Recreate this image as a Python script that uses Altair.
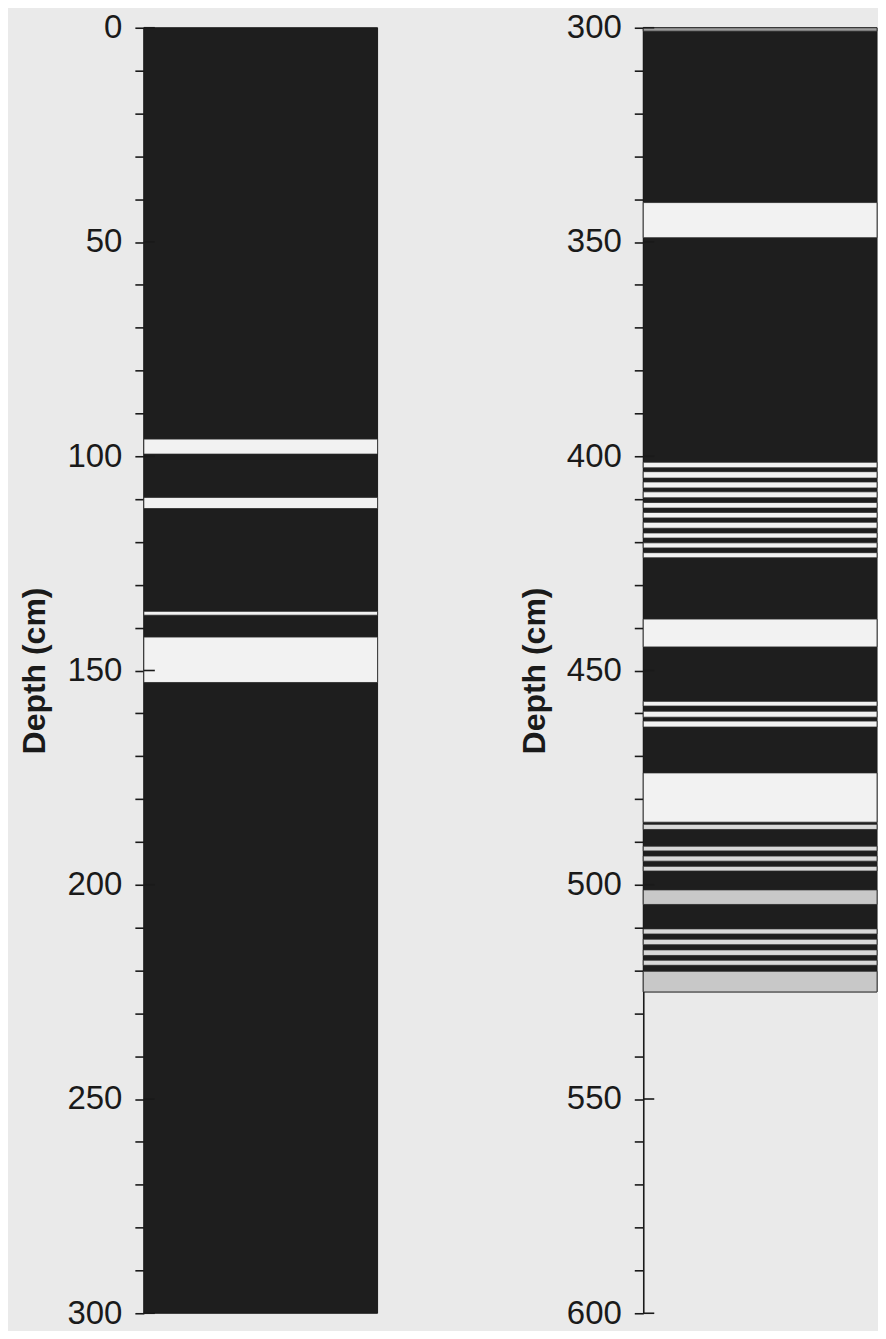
import altair as alt
import pandas as pd

# ---- data (depths in cm) ----
core1_range = [0, 300]
core1_band_top = [96.0, 109.6, 136.2, 142.2]
core1_band_base = [99.5, 112.2, 137.1, 152.8]
core1_band_kind = ["pale", "pale", "pale", "pale"]

core2_range = [300, 525]
core2_band_top = [300.0, 340.8,
                  401.4, 403.6, 406.0, 408.3, 410.8, 413.1, 415.4, 417.9, 420.2, 422.5,
                  438.0, 457.2, 459.5, 461.8, 473.9,
                  485.9, 491.0, 493.3, 495.7, 501.2,
                  510.3, 512.7, 515.2, 517.6, 520.2]
core2_band_base = [300.8, 349.0,
                   402.7, 405.1, 407.4, 409.7, 412.1, 414.4, 416.8, 419.1, 421.4, 423.7,
                   444.5, 458.3, 460.9, 463.2, 485.4,
                   487.1, 492.1, 494.5, 496.8, 504.6,
                   511.5, 514.0, 516.5, 518.8, 525.0]
core2_band_kind = ["trace", "pale",
                   "pale", "pale", "pale", "pale", "pale", "pale", "pale", "pale", "pale", "pale",
                   "pale", "pale", "pale", "pale", "pale",
                   "light", "light", "light", "light", "grey",
                   "light", "light", "light", "light", "grey"]

axis_spans = [[0, 300], [300, 600]]
kinds = ["dark", "pale", "light", "grey", "trace"]
kind_colors = ["#1e1e1e", "#f2f2f2", "#d9d9d9", "#c8c8c8", "#9c9c9c"]

INK = "#1a1a1a"
FONT = "Liberation Sans"
W, H = 234, 1287

color_scale = alt.Scale(domain=kinds, range=kind_colors)


def panel(span, core_range, tops, bases, kinds_list):
    lo, hi = span
    y_scale = alt.Scale(domain=[lo, hi], reverse=True, nice=False, zero=False)
    axis = alt.Axis(
        values=list(range(lo, hi + 1, 10)),
        labelExpr="datum.value % 50 === 0 ? format(datum.value, 'd') : ''",
        labelOverlap=False,
        tickSize=9, tickWidth=1.6, tickColor=INK,
        domainColor=INK, domainWidth=1.6,
        labelFont=FONT, labelFontSize=33, labelColor=INK, labelPadding=13,
        titleFont=FONT, titleFontSize=32, titleFontWeight="bold", titleColor=INK,
        titlePadding=15, grid=False,
    )
    x_scale = alt.Scale(domain=[0, 1])

    core_df = pd.DataFrame({"top": [core_range[0]], "base": [core_range[1]],
                            "kind": ["dark"], "x0": [0], "x1": [1]})
    band_df = pd.DataFrame({"top": tops, "base": bases, "kind": kinds_list,
                            "x0": [0] * len(tops), "x1": [1] * len(tops)})
    tick_df = pd.DataFrame({"d": list(range(lo, hi + 1, 50))})

    core = alt.Chart(core_df).mark_rect(stroke=INK, strokeWidth=1).encode(
        x=alt.X("x0:Q", scale=x_scale, axis=None), x2="x1:Q",
        y=alt.Y("top:Q", scale=y_scale, axis=axis, title="Depth (cm)"), y2="base:Q",
        color=alt.Color("kind:N", scale=color_scale, legend=None),
    )
    bands = alt.Chart(band_df).mark_rect(stroke="#2a2a2a", strokeWidth=0.8).encode(
        x=alt.X("x0:Q", scale=x_scale, axis=None), x2="x1:Q",
        y=alt.Y("top:Q", scale=y_scale, axis=axis, title="Depth (cm)"), y2="base:Q",
        color=alt.Color("kind:N", scale=color_scale, legend=None),
    )
    ticks = alt.Chart(tick_df).mark_rule(color=INK, strokeWidth=1.6).encode(
        y=alt.Y("d:Q", scale=y_scale, axis=axis, title="Depth (cm)"),
        x=alt.value(0), x2=alt.value(11),
    )
    return alt.layer(core, bands, ticks).properties(width=W, height=H)


left = panel(axis_spans[0], core1_range, core1_band_top, core1_band_base, core1_band_kind)
right = panel(axis_spans[1], core2_range, core2_band_top, core2_band_base, core2_band_kind)

chart = alt.hconcat(left, right, spacing=139).properties(
    background="#eaeaea",
    padding={"left": 10, "top": 3, "right": 0, "bottom": 0},
).configure_view(stroke=None)

chart.save("out.html", embed_options={"renderer": "svg", "actions": False})
